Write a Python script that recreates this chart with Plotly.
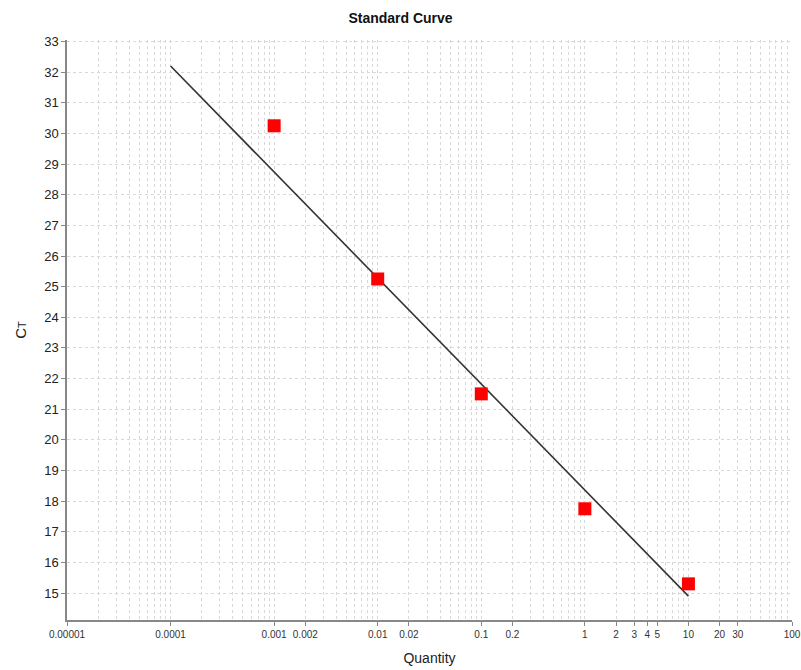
import plotly.graph_objects as go
import numpy as np

quantity = [0.001, 0.01, 0.1, 1, 10]
ct = [30.25, 25.25, 21.5, 17.75, 15.3]
fit_x = [0.0001, 10]
fit_y = [32.2, 14.9]
tick_vals = [0.00001, 0.0001, 0.001, 0.002, 0.01, 0.02, 0.1, 0.2, 1, 2, 3, 4, 5, 10, 20, 30, 100]
tick_text = ["0.00001", "0.0001", "0.001", "0.002", "0.01", "0.02", "0.1", "0.2", "1", "2", "3", "4", "5", "10", "20", "30", "100"]
y_ticks = list(range(15, 34))

minor_vals = [m * 10.0 ** e for e in range(-5, 2) for m in range(1, 10)] + [100]

fig = go.Figure()
fig.add_trace(go.Scatter(x=fit_x, y=fit_y, mode="lines",
                         line=dict(color="#333333", width=1.6), showlegend=False))
fig.add_trace(go.Scatter(x=quantity, y=ct, mode="markers",
                         marker=dict(symbol="square", size=13, color="#ff0000",
                                     line=dict(width=0)), showlegend=False))

fig.update_layout(
    width=801, height=670,
    margin=dict(l=67, r=9, t=40, b=50),
    paper_bgcolor="white", plot_bgcolor="white",
    font=dict(family="Liberation Sans, Arial, sans-serif", color="#222222"),
    title=dict(text="<b>Standard Curve</b>", x=0.5, xanchor="center", y=0.973, yanchor="middle",
               font=dict(size=14, color="#111111")),
)
fig.update_xaxes(
    type="log", range=[-5, 2], automargin=False,
    tickvals=tick_vals, ticktext=tick_text,
    tickfont=dict(size=10, color="#333333"), ticks="outside", ticklen=4, tickcolor="#888888",
    showline=True, linecolor="#888888", linewidth=1.5, mirror=False,
    showgrid=False, zeroline=False,
    minor=dict(tickvals=minor_vals, showgrid=True, gridcolor="#d8d8d8", griddash="3px,3px", gridwidth=1, ticks=""),
    title=dict(text="Quantity", font=dict(size=14), standoff=14),
)
fig.update_yaxes(
    range=[14.12, 33.05], automargin=False,
    tickvals=y_ticks,
    tickfont=dict(size=13), ticks="outside", ticklen=4, tickcolor="#888888",
    showline=True, linecolor="#888888", linewidth=1.5,
    showgrid=True, gridcolor="#d8d8d8", griddash="3px,3px", gridwidth=1, zeroline=False,
    title=dict(text="C<span style='font-size:11px'>T</span>", font=dict(size=15), standoff=14),
)

fig.write_html("out.html")
